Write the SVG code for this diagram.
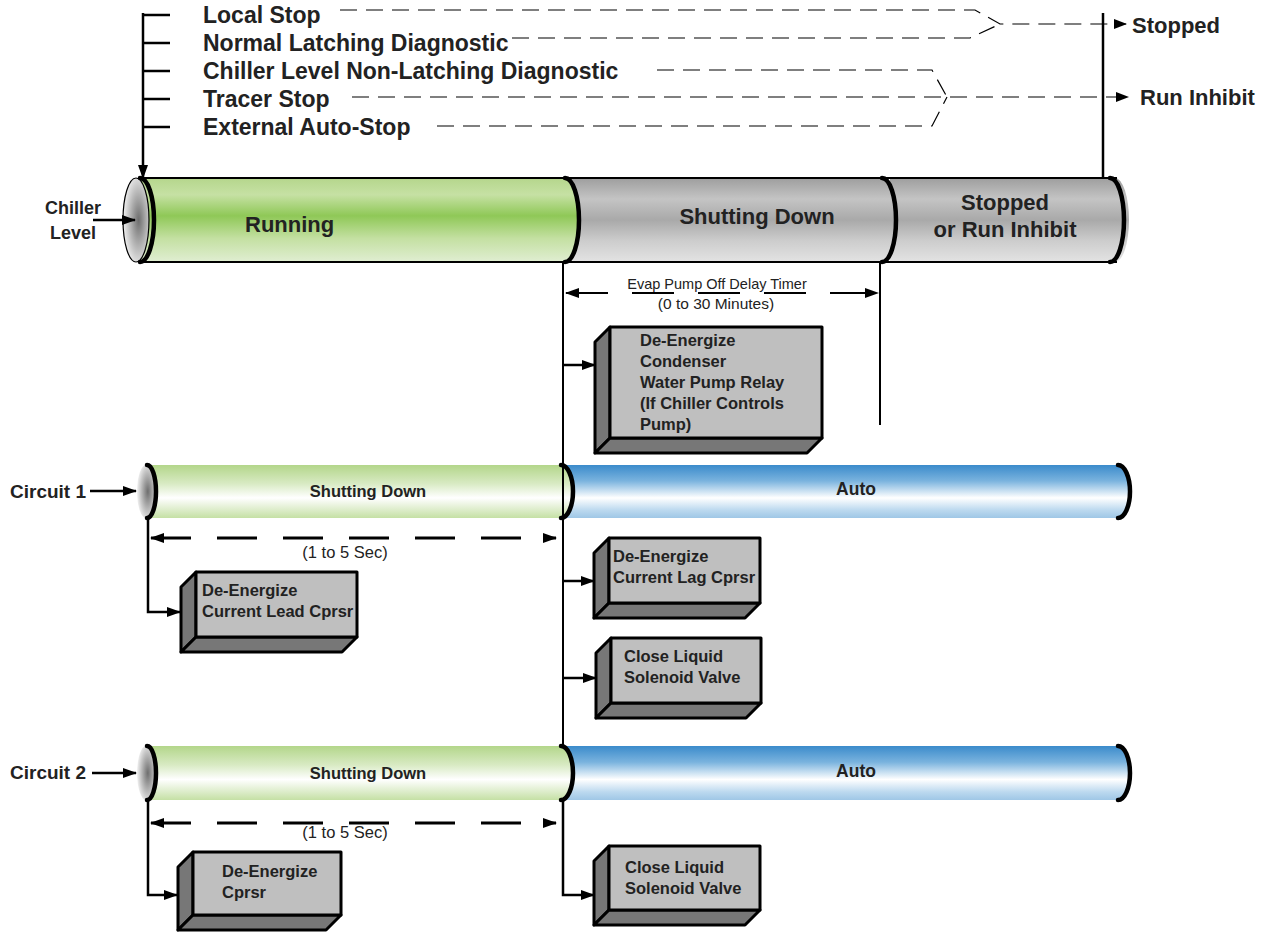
<svg xmlns="http://www.w3.org/2000/svg" width="1269" height="932" viewBox="0 0 1269 932">
<style>
.b{font-family:"Liberation Sans",Arial,sans-serif;font-weight:bold;fill:#222}
.r{font-family:"Liberation Sans",Arial,sans-serif;fill:#222}
.ln{stroke:#000;stroke-width:2.5;fill:none}
.dl{stroke:#000;stroke-width:1.2;fill:none;stroke-dasharray:17 9}
.arc{stroke:#000;stroke-width:4.5;fill:none;stroke-linecap:round}
.front{fill:#bfbfbf;stroke:#000;stroke-width:3;stroke-linejoin:round}
.side{fill:#777;stroke:#000;stroke-width:3;stroke-linejoin:round}
</style>
<defs>
<marker id="ah" markerWidth="14" markerHeight="10" refX="13" refY="5" orient="auto-start-reverse" markerUnits="userSpaceOnUse"><path d="M0,0 L14,5 L0,10 Z" fill="#000"/></marker>
<marker id="ahs" markerWidth="13" markerHeight="10" refX="12" refY="5" orient="auto-start-reverse" markerUnits="userSpaceOnUse"><path d="M0,0 L13,5 L0,10 Z" fill="#000"/></marker>
<linearGradient id="gMain" x1="0" y1="0" x2="0" y2="1">
<stop offset="0" stop-color="#b5d68c"/><stop offset="0.2" stop-color="#c6e1a4"/><stop offset="0.45" stop-color="#8fc857"/><stop offset="0.72" stop-color="#c4e0a2"/><stop offset="1" stop-color="#e0eed2"/></linearGradient>
<linearGradient id="gray" x1="0" y1="0" x2="0" y2="1">
<stop offset="0" stop-color="#9e9e9e"/><stop offset="0.25" stop-color="#c4c4c4"/><stop offset="0.5" stop-color="#a9a9a9"/><stop offset="0.75" stop-color="#cdcdcd"/><stop offset="1" stop-color="#e3e3e3"/></linearGradient>
<linearGradient id="gLight" x1="0" y1="0" x2="0" y2="1">
<stop offset="0" stop-color="#b3d68a"/><stop offset="0.35" stop-color="#d8eac3"/><stop offset="0.62" stop-color="#ffffff"/><stop offset="0.85" stop-color="#dcecc9"/><stop offset="1" stop-color="#c5e0a5"/></linearGradient>
<linearGradient id="blue" x1="0" y1="0" x2="0" y2="1">
<stop offset="0" stop-color="#3b8bcb"/><stop offset="0.3" stop-color="#7ab3de"/><stop offset="0.62" stop-color="#ffffff"/><stop offset="0.85" stop-color="#bcd9ef"/><stop offset="1" stop-color="#9fc7e6"/></linearGradient>
<radialGradient id="cap" cx="0.6" cy="0.5" r="0.6">
<stop offset="0" stop-color="#6e6e6e"/><stop offset="0.6" stop-color="#bdbdbd"/><stop offset="1" stop-color="#f2f2f2"/></radialGradient>
</defs>

<g id="inputs">
<text class="b" x="203" y="23" font-size="23">Local Stop</text>
<text class="b" x="203" y="51" font-size="23">Normal Latching Diagnostic</text>
<text class="b" x="203" y="79" font-size="23">Chiller Level Non-Latching Diagnostic</text>
<text class="b" x="203" y="107" font-size="23">Tracer Stop</text>
<text class="b" x="203" y="135" font-size="23">External Auto-Stop</text>
<text class="b" x="1132" y="33" font-size="22">Stopped</text>
<text class="b" x="1140" y="105" font-size="22">Run Inhibit</text>
</g>

<g id="chiller-level">
<rect x="890" y="178" width="225" height="84" fill="url(#gray)"/>
<path d="M1115,178 A14,42 0 0 1 1115,262 Z" fill="url(#gray)"/>
<path d="M565,178 H882 A14,42 0 0 1 882,262 H565 Z" fill="url(#gray)"/>
<path d="M140,178 H565 A14,42 0 0 1 565,262 H140 Z" fill="url(#gMain)"/>
<line x1="140" y1="178" x2="1117" y2="178" stroke="#000" stroke-width="2"/>
<line x1="140" y1="262" x2="1117" y2="262" stroke="#000" stroke-width="2"/>
<ellipse cx="136" cy="220" rx="13" ry="42" fill="url(#cap)" stroke="#000" stroke-width="1.2"/>
<path class="arc" d="M140,178 A14,42 0 0 1 140,262"/>
<path class="arc" d="M565,178 A14,42 0 0 1 565,262"/>
<path class="arc" d="M882,178 A14,42 0 0 1 882,262"/>
<path class="arc" d="M1110,178 A14,42 0 0 1 1110,262"/>
<text class="b" x="73" y="214" font-size="18" text-anchor="middle">Chiller</text>
<text class="b" x="73" y="239" font-size="18" text-anchor="middle">Level</text>
<text class="b" x="245" y="232" font-size="22">Running</text>
<text class="b" x="757" y="224" font-size="22" text-anchor="middle">Shutting Down</text>
<text class="b" x="1005" y="210" font-size="22" text-anchor="middle">Stopped</text>
<text class="b" x="1005" y="237" font-size="22" text-anchor="middle">or Run Inhibit</text>
</g>

<g id="circuit-1">
<path d="M560,465 H1118 A12,26.5 0 0 1 1118,518 H560 Z" fill="url(#blue)"/>
<path d="M148,465 H561 A12,26.5 0 0 1 561,518 H148 Z" fill="url(#gLight)"/>
<ellipse cx="146" cy="491.5" rx="9" ry="26.5" fill="url(#cap)"/>
<path class="arc" d="M147,465 A9,26.5 0 0 1 147,518"/>
<path class="arc" d="M561,465 A12,26.5 0 0 1 561,518"/>
<path class="arc" d="M1118,465 A12,26.5 0 0 1 1118,518"/>
<text class="b" x="10" y="498" font-size="19">Circuit 1</text>
<text class="b" x="368" y="497" font-size="16.5" text-anchor="middle">Shutting Down</text>
<text class="b" x="856" y="495" font-size="17.5" text-anchor="middle">Auto</text>
</g>

<g id="circuit-2">
<path d="M560,746 H1118 A12,27 0 0 1 1118,800 H560 Z" fill="url(#blue)"/>
<path d="M148,746 H561 A12,27 0 0 1 561,800 H148 Z" fill="url(#gLight)"/>
<ellipse cx="146" cy="773" rx="9" ry="27" fill="url(#cap)"/>
<path class="arc" d="M147,746 A9,27 0 0 1 147,800"/>
<path class="arc" d="M561,746 A12,27 0 0 1 561,800"/>
<path class="arc" d="M1118,746 A12,27 0 0 1 1118,800"/>
<text class="b" x="10" y="779" font-size="19">Circuit 2</text>
<text class="b" x="368" y="779" font-size="16.5" text-anchor="middle">Shutting Down</text>
<text class="b" x="856" y="777" font-size="17.5" text-anchor="middle">Auto</text>
</g>

<g id="box-condenser">
<polygon class="side" points="610,327 595,342 595,453 610,438"/>
<polygon class="side" points="610,438 822,438 807,453 595,453"/>
<rect class="front" x="610" y="327" width="212" height="111"/>
<text class="b" font-size="16.5"><tspan x="640" y="346">De-Energize</tspan><tspan x="640" y="367">Condenser</tspan><tspan x="640" y="388">Water Pump Relay</tspan><tspan x="640" y="409">(If  Chiller Controls</tspan><tspan x="640" y="430">Pump)</tspan></text>
</g>

<g id="box-lead">
<polygon class="side" points="196,572 181,587 181,652 196,637"/>
<polygon class="side" points="196,637 357,637 342,652 181,652"/>
<rect class="front" x="196" y="572" width="161" height="65"/>
<text class="b" font-size="16.5"><tspan x="202" y="596">De-Energize</tspan><tspan x="202" y="617">Current Lead Cprsr</tspan></text>
</g>

<g id="box-lag">
<polygon class="side" points="609,538 594,553 594,618 609,603"/>
<polygon class="side" points="609,603 760,603 745,618 594,618"/>
<rect class="front" x="609" y="538" width="151" height="65"/>
<text class="b" font-size="16.5"><tspan x="613" y="562">De-Energize</tspan><tspan x="613" y="583">Current Lag Cprsr</tspan></text>
</g>

<g id="box-liquid-1">
<polygon class="side" points="611,638 596,653 596,718 611,703"/>
<polygon class="side" points="611,703 761,703 746,718 596,718"/>
<rect class="front" x="611" y="638" width="150" height="65"/>
<text class="b" font-size="16.5"><tspan x="624" y="662">Close Liquid</tspan><tspan x="624" y="683">Solenoid Valve</tspan></text>
</g>

<g id="box-cprsr">
<polygon class="side" points="193,852 178,867 178,930 193,915"/>
<polygon class="side" points="193,915 341,915 326,930 178,930"/>
<rect class="front" x="193" y="852" width="148" height="63"/>
<text class="b" font-size="16.5"><tspan x="222" y="877">De-Energize</tspan><tspan x="222" y="898">Cprsr</tspan></text>
</g>

<g id="box-liquid-2">
<polygon class="side" points="609,846 594,861 594,925 609,910"/>
<polygon class="side" points="609,910 760,910 745,925 594,925"/>
<rect class="front" x="609" y="846" width="151" height="64"/>
<text class="b" font-size="16.5"><tspan x="625" y="873">Close Liquid</tspan><tspan x="625" y="894">Solenoid Valve</tspan></text>
</g>

<g id="connectors">
<line class="ln" x1="143" y1="13" x2="143" y2="178" marker-end="url(#ah)"/>
<path class="ln" d="M143,15 H170 M143,43 H170 M143,71 H170 M143,99 H170 M143,127 H170"/>
<line class="ln" x1="1103" y1="13" x2="1103" y2="178"/>
<polyline class="dl" points="340,10 975,10 1000,24 1126,24" marker-end="url(#ahs)"/>
<polyline class="dl" points="512,38 970,38 1000,24"/>
<polyline class="dl" points="657,70 932,70 947,97"/>
<polyline class="dl" points="352,97 1128,97" marker-end="url(#ahs)"/>
<polyline class="dl" points="437,126 932,126 947,97"/>
<line class="ln" x1="93" y1="220" x2="135" y2="220" marker-end="url(#ah)"/>
<line class="ln" x1="90" y1="491" x2="136" y2="491" marker-end="url(#ah)"/>
<line class="ln" x1="92" y1="773" x2="136" y2="773" marker-end="url(#ah)"/>
<line x1="563" y1="262" x2="563" y2="746" stroke="#000" stroke-width="2"/>
<line x1="880" y1="262" x2="880" y2="425" stroke="#000" stroke-width="2"/>
<line x1="566" y1="293" x2="878" y2="293" stroke="#000" stroke-width="2" stroke-dasharray="42 24" marker-start="url(#ah)" marker-end="url(#ah)"/>
<text class="r" x="717" y="289" font-size="14.5" text-anchor="middle">Evap Pump Off Delay Timer</text>
<text class="r" x="716" y="309" font-size="15.5" text-anchor="middle">(0 to 30 Minutes)</text>
<line class="ln" x1="563" y1="365" x2="595" y2="365" marker-end="url(#ah)"/>
<polyline class="ln" points="148,518 148,612 180,612" marker-end="url(#ah)"/>
<line x1="151" y1="538" x2="556" y2="538" stroke="#000" stroke-width="3" stroke-dasharray="40 26" marker-start="url(#ah)" marker-end="url(#ah)"/>
<text class="r" x="345" y="558" font-size="16.5" text-anchor="middle">(1 to 5 Sec)</text>
<line class="ln" x1="563" y1="581" x2="594" y2="581" marker-end="url(#ah)"/>
<line class="ln" x1="563" y1="678" x2="596" y2="678" marker-end="url(#ah)"/>
<polyline class="ln" points="148,800 148,895 177,895" marker-end="url(#ah)"/>
<line x1="151" y1="823" x2="556" y2="823" stroke="#000" stroke-width="3" stroke-dasharray="40 26" marker-start="url(#ah)" marker-end="url(#ah)"/>
<text class="r" x="345" y="838" font-size="16.5" text-anchor="middle">(1 to 5 Sec)</text>
<polyline class="ln" points="563,800 563,895 594,895" marker-end="url(#ah)"/>
</g>
</svg>
